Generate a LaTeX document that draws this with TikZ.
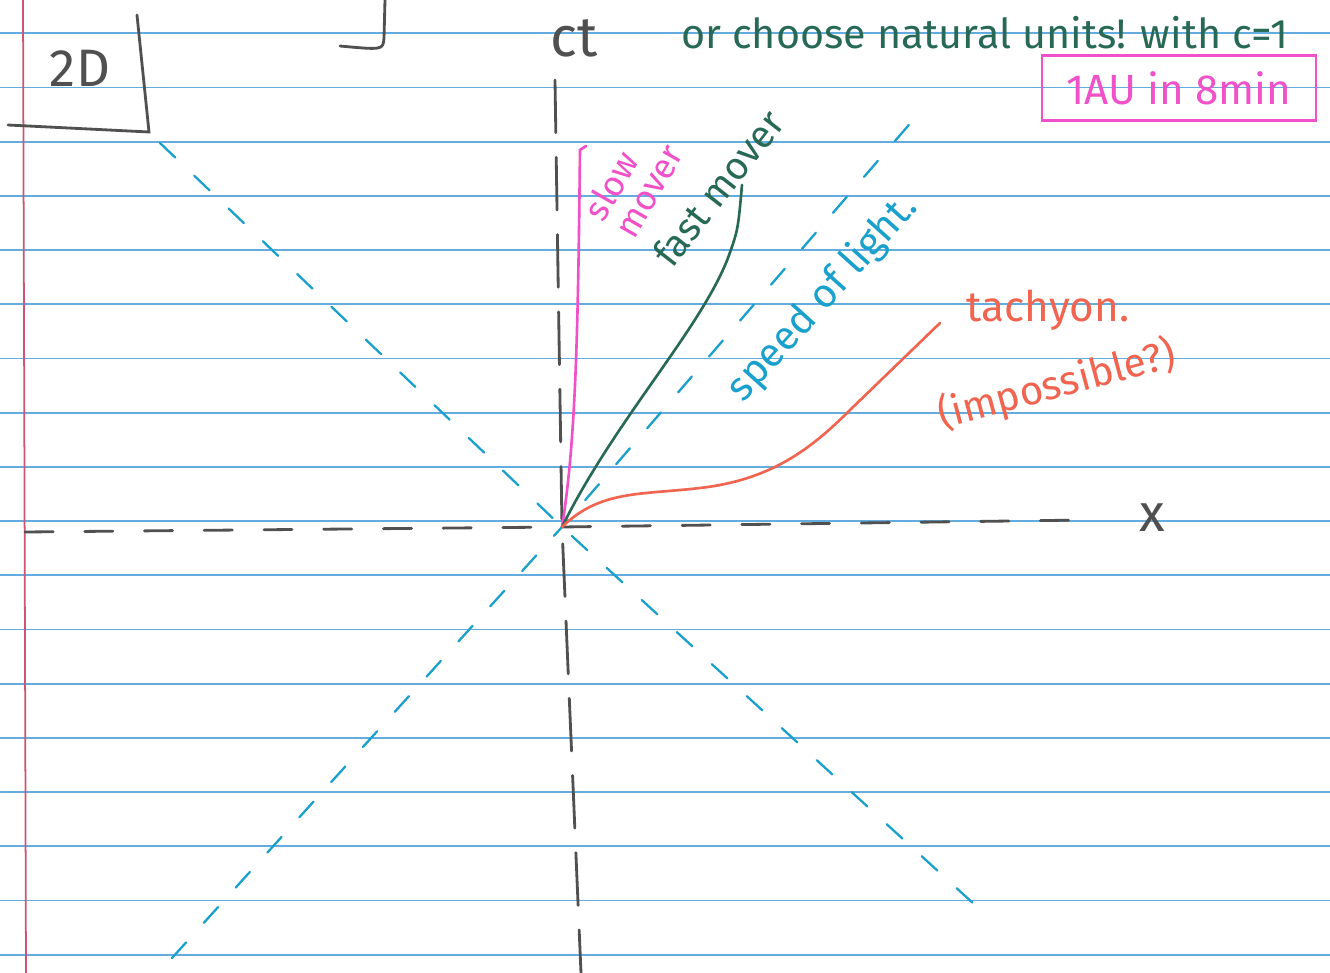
\documentclass[tikz,border=0pt]{standalone}
\usepackage{fontspec}
\setmainfont{Fira Sans}
\definecolor{ruleblue}{RGB}{100,172,222}
\definecolor{marginred}{RGB}{205,85,115}
\definecolor{pencilgray}{RGB}{80,80,80}
\definecolor{lightpen}{RGB}{25,160,205}
\definecolor{slowpen}{RGB}{240,80,200}
\definecolor{fastpen}{RGB}{40,105,85}
\definecolor{tachpen}{RGB}{240,100,80}
\begin{document}
\begin{tikzpicture}[x=0.02cm, y=-0.02cm,
  ruling/.style={draw=ruleblue, line width=1pt},
  pencil/.style={draw=pencilgray, line width=1.6pt, line cap=round},
  axis/.style={pencil, dash pattern=on 16pt off 18pt},
  cone/.style={draw=lightpen, line width=1.3pt, dash pattern=on 12pt off 15pt, line cap=round},
  world/.style={line width=1.5pt, line cap=round},
  hand/.style={inner sep=0pt, font=\fontsize{22}{26}\selectfont},
]
  \useasboundingbox[fill=white] (0,0) rectangle (1330,973);

  % notebook paper
  \foreach \k in {0,...,17}
    \draw[ruling] (0,{33.3+54.2*\k}) -- (1330,{33.3+54.2*\k});
  \draw[marginred, line width=1pt] (23,0) -- (26,973);

  % corner marks
  \coordinate (boxTop) at (137,15);
  \coordinate (boxCorner) at (149,132);
  \coordinate (boxLeft) at (8,125);
  \coordinate (brTop) at (385,0);
  \coordinate (brEnd) at (340,46);
  \draw[pencil] (boxTop) -- (boxCorner) -- (boxLeft);
  \draw[pencil] (brTop) -- (384,38) .. controls (383,50) .. (brEnd);
  \node[hand, text=pencilgray, font=\fontsize{30}{34}\selectfont] (twoD) at (80,68) {2D};

  % axes
  \coordinate (O) at (562,527);
  \coordinate (ctTop) at (555,80);
  \coordinate (ctBot) at (581,973);
  \coordinate (xL) at (25,532);
  \coordinate (xR) at (1085,520);
  \draw[axis, dash pattern=on 30pt off 14pt] (ctTop) -- (O) -- (ctBot);
  \draw[axis] (xL) -- (O) -- (xR);
  \node[hand, text=pencilgray, font=\fontsize{32}{36}\selectfont] (ct) at (574,38) {ct};
  \node[hand, text=pencilgray, font=\fontsize{30}{34}\selectfont] (xlbl) at (1152,518) {x};

  % light cone
  \coordinate (lcUL) at (160,143);
  \coordinate (lcUR) at (920,112);
  \coordinate (lcLL) at (172,958);
  \coordinate (lcLR) at (975,905);
  \draw[cone] (lcUL) -- (O) -- (lcLR);
  \draw[cone] (lcLL) -- (O) -- (lcUR);

  % world lines
  \coordinate (slowTop) at (580,150);
  \coordinate (fastTop) at (742,185);
  \coordinate (tachEnd) at (940,323);
  \draw[world, slowpen] (O) .. controls (576,440) and (578,330) .. (slowTop) -- (586,146);
  \draw[world, fastpen] (O) .. controls (615,420) and (700,330) .. (728,258)
    .. controls (738,230) .. (fastTop);
  \draw[world, tachpen] (O) .. controls (600,490) and (640,495) .. (700,488)
    .. controls (770,480) and (810,450) .. (850,410) -- (tachEnd);

  % labels
  \node[hand, text=fastpen, font=\fontsize{23.5}{27}\selectfont] (natural) at (985,33)
    {or choose natural units! with c=1};
  \node[hand, draw=slowpen, line width=1.3pt, text=slowpen, font=\fontsize{24}{28}\selectfont,
    minimum width=5.48cm, minimum height=1.3cm] (au) at (1179,88) {1AU in 8min};
  \node[hand, text=slowpen, align=left, rotate=60, font=\fontsize{20}{20}\selectfont]
    (slowlbl) at (633,182) {slow\\ mover};
  \node[hand, text=fastpen, rotate=52] (fastlbl) at (718,188) {fast mover};
  \node[hand, text=lightpen, rotate=48, font=\fontsize{23}{27}\selectfont]
    (lightlbl) at (823,298) {speed of light.};
  \node[hand, text=tachpen, font=\fontsize{24}{28}\selectfont] (tachlbl) at (1048,310) {tachyon.};
  \node[hand, text=tachpen, rotate=15, font=\fontsize{23}{27}\selectfont] (implbl) at (1057,385) {(impossible?)};
\end{tikzpicture}
\end{document}
